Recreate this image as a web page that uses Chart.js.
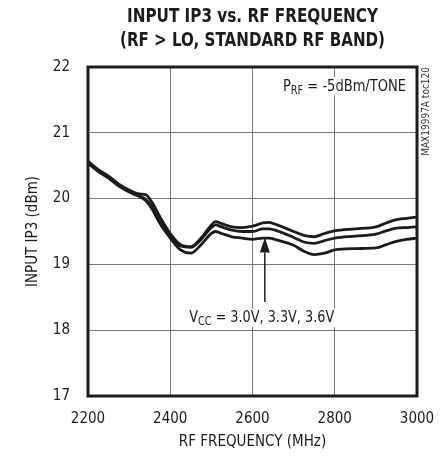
<!DOCTYPE html>
<html>
<head>
<meta charset="utf-8">
<script src="https://cdn.jsdelivr.net/npm/chart.js@4.4.0/dist/chart.umd.min.js"></script>
<style>
  html, body { margin: 0; padding: 0; background: #fff; }
  #wrap { width: 442px; height: 460px; position: relative; }
</style>
</head>
<body>
<div id="wrap"><canvas id="ip3Chart"></canvas></div>
<script>
// DATA
const freqMHz = [2200, 2225, 2250, 2275, 2300, 2325, 2340, 2355, 2375, 2400, 2425, 2450, 2475, 2500, 2510, 2525, 2550, 2575, 2600, 2625, 2640, 2660, 2700, 2725, 2750, 2775, 2800, 2850, 2900, 2925, 2950, 2975, 3000];
const ip3Top = [20.57, 20.44, 20.34, 20.22, 20.13, 20.07, 20.06, 19.95, 19.72, 19.47, 19.30, 19.27, 19.40, 19.60, 19.65, 19.62, 19.57, 19.56, 19.58, 19.63, 19.64, 19.60, 19.50, 19.44, 19.42, 19.47, 19.51, 19.54, 19.57, 19.63, 19.68, 19.70, 19.72];
const ip3Mid = [20.55, 20.42, 20.32, 20.20, 20.11, 20.04, 19.99, 19.88, 19.65, 19.43, 19.28, 19.26, 19.38, 19.56, 19.60, 19.57, 19.52, 19.50, 19.50, 19.54, 19.54, 19.51, 19.41, 19.34, 19.32, 19.36, 19.40, 19.43, 19.46, 19.51, 19.55, 19.56, 19.57];
const ip3Bot = [20.54, 20.41, 20.31, 20.19, 20.10, 20.03, 19.97, 19.85, 19.62, 19.40, 19.22, 19.17, 19.30, 19.47, 19.50, 19.47, 19.42, 19.40, 19.38, 19.40, 19.40, 19.37, 19.29, 19.20, 19.15, 19.17, 19.22, 19.24, 19.25, 19.30, 19.35, 19.38, 19.40];
const xTicks = [2200, 2400, 2600, 2800, 3000];
const yTicks = [17, 18, 19, 20, 21, 22];

const NARROW = "'DejaVu Sans Condensed', 'Liberation Sans', sans-serif";
const INK = '#1c1c1c';

function pts(vals) {
  return freqMHz.map((f, i) => ({ x: f, y: vals[i] }));
}

function lineSet(label, vals) {
  return {
    label: label,
    data: pts(vals),
    borderColor: INK,
    borderWidth: 2.8,
    pointRadius: 0,
    fill: false,
    cubicInterpolationMode: 'monotone'
  };
}

// text with a subscript part, squeezed to a given width
function drawSubText(ctx, x, y, parts, size, width) {
  const [a, sub, b] = parts;
  const subSize = Math.round(size * 0.72);
  ctx.font = size + 'px ' + NARROW;
  const wa = ctx.measureText(a).width;
  const wb = ctx.measureText(b).width;
  ctx.font = subSize + 'px ' + NARROW;
  const ws = ctx.measureText(sub).width;
  const k = width / (wa + ws + wb);
  ctx.save();
  ctx.fillStyle = '#fff';
  ctx.fillRect(x - 3, y - size * 0.85, width + 6, size * 1.15);
  ctx.translate(x, y);
  ctx.scale(k, 1);
  ctx.textAlign = 'left';
  ctx.textBaseline = 'alphabetic';
  ctx.fillStyle = INK;
  ctx.font = size + 'px ' + NARROW;
  ctx.fillText(a, 0, 0);
  ctx.font = subSize + 'px ' + NARROW;
  ctx.fillText(sub, wa, 3);
  ctx.font = size + 'px ' + NARROW;
  ctx.fillText(b, wa + ws, 0);
  ctx.restore();
}

function drawSqueezed(ctx, text, cx, cy, width) {
  const w = ctx.measureText(text).width;
  ctx.save();
  ctx.translate(cx, cy);
  ctx.scale(width / w, 1);
  ctx.fillText(text, 0, 0);
  ctx.restore();
}

const decorations = {
  id: 'decorations',
  afterDatasetsDraw(chart) {
    const { ctx, chartArea: a, scales: { x, y } } = chart;
    ctx.save();

    // frame
    ctx.strokeStyle = INK;
    ctx.lineWidth = 3;
    ctx.strokeRect(a.left, a.top, a.right - a.left, a.bottom - a.top);

    // title
    ctx.fillStyle = INK;
    ctx.textAlign = 'center';
    ctx.textBaseline = 'middle';
    ctx.font = 'bold 20px "DejaVu Sans", sans-serif';
    const cx = (a.left + a.right) / 2;
    drawSqueezed(ctx, 'INPUT IP3 vs. RF FREQUENCY', cx, 17, 251);
    drawSqueezed(ctx, '(RF > LO, STANDARD RF BAND)', cx, 41, 265);

    // notes
    drawSubText(ctx, x.getPixelForValue(2674), y.getPixelForValue(21.64), ['P', 'RF', ' = -5dBm/TONE'], 16, 123);
    drawSubText(ctx, x.getPixelForValue(2446), y.getPixelForValue(18.12), ['V', 'CC', ' = 3.0V, 3.3V, 3.6V'], 16, 145);

    // arrow
    const ax = x.getPixelForValue(2630);
    const tipY = y.getPixelForValue(19.41);
    const baseY = tipY + 15;
    const endY = y.getPixelForValue(18.43);
    ctx.strokeStyle = INK;
    ctx.fillStyle = INK;
    ctx.lineWidth = 1.5;
    ctx.beginPath();
    ctx.moveTo(ax, endY);
    ctx.lineTo(ax, baseY);
    ctx.stroke();
    ctx.beginPath();
    ctx.moveTo(ax, tipY);
    ctx.lineTo(ax - 5, baseY);
    ctx.lineTo(ax + 5, baseY);
    ctx.closePath();
    ctx.fill();

    // figure id
    ctx.translate(a.right + 9, a.top);
    ctx.rotate(-Math.PI / 2);
    ctx.font = '10px ' + NARROW;
    ctx.fillStyle = '#333';
    ctx.textAlign = 'right';
    ctx.textBaseline = 'middle';
    ctx.fillText('MAX19997A toc120', 0, 0);
    ctx.restore();
  }
};

const config = {
  type: 'line',
  data: {
    datasets: [
      lineSet('3.6V', ip3Top),
      lineSet('3.3V', ip3Mid),
      lineSet('3.0V', ip3Bot)
    ]
  },
  options: {
    responsive: true,
    maintainAspectRatio: false,
    animation: false,
    layout: { padding: { top: 67, right: 25, left: 0, bottom: 0 } },
    plugins: {
      legend: { display: false },
      tooltip: { enabled: false },
      title: { display: false }
    },
    scales: {
      x: {
        type: 'linear',
        min: 2200,
        max: 3000,
        afterBuildTicks: (s) => { s.ticks = xTicks.map(v => ({ value: v })); },
        afterFit: (s) => { s.height = 64; s.paddingLeft = 0; s.paddingRight = 0; },
        grid: { color: '#7a7a7a', lineWidth: 1, drawTicks: false },
        border: { display: false },
        ticks: { color: INK, padding: 14, font: { family: NARROW, size: 15 }, callback: (v) => String(v) },
        title: {
          display: true,
          text: 'RF FREQUENCY (MHz)',
          color: INK,
          font: { family: NARROW, size: 15 },
          padding: { top: 0, bottom: 9 }
        }
      },
      y: {
        min: 17,
        max: 22,
        afterBuildTicks: (s) => { s.ticks = yTicks.map(v => ({ value: v })); },
        afterFit: (s) => { s.width = 88; s.paddingTop = 0; s.paddingBottom = 0; },
        grid: { color: '#7a7a7a', lineWidth: 1, drawTicks: false },
        border: { display: false },
        ticks: { color: INK, padding: 18, font: { family: NARROW, size: 15 }, callback: (v) => String(v) },
        title: {
          display: true,
          text: 'INPUT IP3 (dBm)',
          color: INK,
          font: { family: NARROW, size: 15 },
          padding: { top: 24, bottom: 0 }
        }
      }
    }
  },
  plugins: [decorations]
};

const ip3Chart = new Chart(document.getElementById('ip3Chart'), config);
</script>
</body>
</html>
